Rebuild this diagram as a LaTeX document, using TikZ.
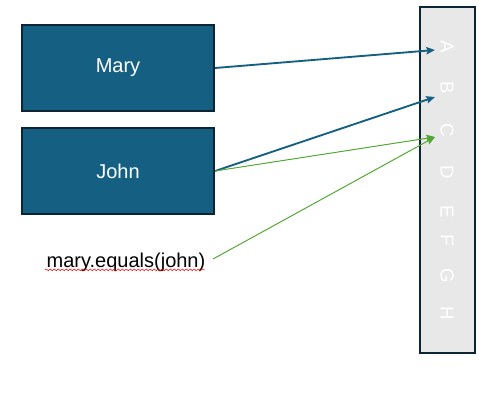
\documentclass[tikz,border=0pt]{standalone}
\usepackage{fontspec}
\setmainfont{Liberation Sans}
\usetikzlibrary{arrows.meta,decorations.pathmorphing}
\definecolor{boxblue}{HTML}{156082}
\definecolor{boxedge}{HTML}{0B2535}
\definecolor{linkgreen}{HTML}{4EA72E}
\definecolor{colgray}{HTML}{E8E8E8}

\begin{document}
\begin{tikzpicture}[x=0.75pt,y=-0.75pt,>={Stealth[length=6.5pt,width=5.5pt,inset=1pt]}]
    \tikzstyle{person}=[rectangle,draw=boxedge,line width=1.5pt,fill=boxblue,text=white,minimum width=144pt,minimum height=64.5pt,font=\fontsize{15}{17}\selectfont]
    \tikzstyle{slot}=[text=white,rotate=-90,inner sep=0pt,font=\fontsize{14}{16}\selectfont]
    \tikzstyle{blue link}=[->,draw=boxblue,fill=boxblue,line width=1.4pt]
    \tikzstyle{green link}=[->,draw=linkgreen,fill=linkgreen,line width=0.7pt]
    \useasboundingbox (0,0) rectangle (502,401);

    \node[rectangle,draw=boxedge,line width=1.5pt,fill=colgray,minimum width=41.25pt,minimum height=259.5pt] (col) at (447.5,180) {};
    \foreach \letter/\y in {A/47, B/88, C/130, D/172, E/212, F/240, G/276, H/313}
        \node[slot] (L-\letter) at (447,\y) {\letter};
    \foreach \letter/\y in {A/50, B/97, C/137}
        \coordinate (in-\letter) at (435,\y);

    \node[person] (mary) at (118,68) {Mary};
    \node[person] (john) at (118,171) {John};
    \node[font=\fontsize{15}{17}\selectfont] (eq) at (126,262) {mary.equals(john)};

    \draw[red,line width=0.4pt,decorate,decoration={snake,amplitude=0.7pt,segment length=3pt}]
        ([shift={(3,-2pt)}]eq.base west) -- ([shift={(-5,-2pt)}]eq.base east);

    \draw[blue link] (mary.east) -- (in-A);
    \draw[blue link] (john.east) -- (in-B);
    \draw[green link] (john.east) -- (in-C);
    \draw[green link] ([shift={(3,-3)}]eq.east) -- (in-C);
\end{tikzpicture}
\end{document}
